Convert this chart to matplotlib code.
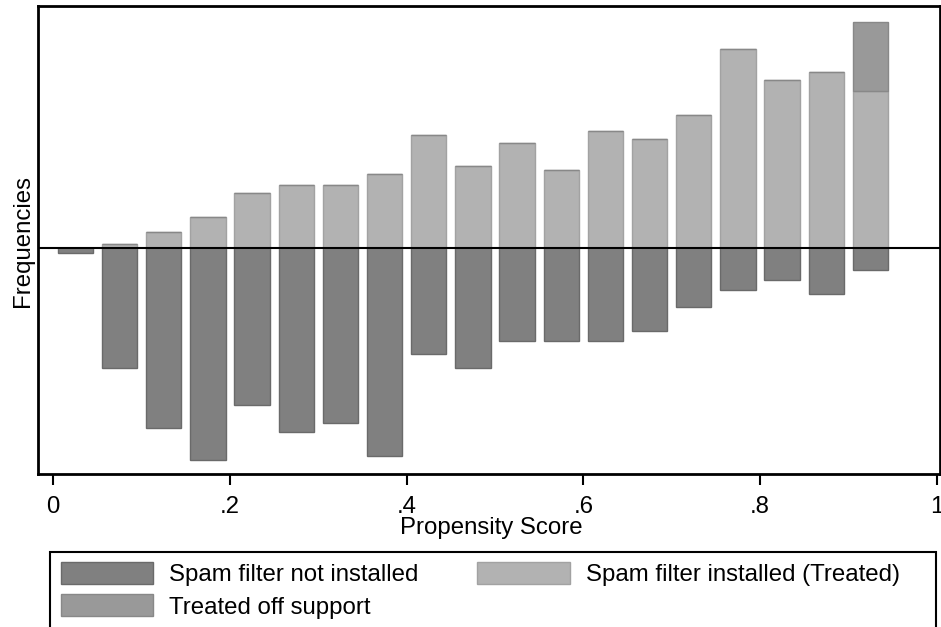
import matplotlib
matplotlib.use("Agg")
import matplotlib.pyplot as plt
from matplotlib.patches import Rectangle

# bin centres of the propensity score histogram (bin width .05)
bin_centers = [0.025, 0.075, 0.125, 0.175, 0.225, 0.275, 0.325, 0.375, 0.425, 0.475,
               0.525, 0.575, 0.625, 0.675, 0.725, 0.775, 0.825, 0.875, 0.925]
# frequencies (arbitrary units, y axis is unlabelled)
untreated = [5, 120, 180, 212, 157, 184, 175, 208, 106, 120,
             93, 93, 93, 83, 59, 42, 32, 46, 22]
treated = [0, 4, 16, 31, 55, 63, 63, 74, 113, 82,
           105, 78, 117, 109, 133, 199, 168, 176, 157]
treated_off = [0, 0, 0, 0, 0, 0, 0, 0, 0, 0,
               0, 0, 0, 0, 0, 0, 0, 0, 69]

tick_values = [0, 0.2, 0.4, 0.6, 0.8, 1.0]
tick_labels = ["0", ".2", ".4", ".6", ".8", "1"]
legend_labels = ["Spam filter not installed", "Spam filter installed (Treated)",
                 "Treated off support"]

W, H = 941, 627


def plot_chart(output_path):
    plt.rcParams["font.family"] = ["Liberation Sans", "DejaVu Sans"]
    fs = 17.3

    fig = plt.figure(figsize=(W / 100, H / 100), dpi=100)
    # axes frame in pixel terms: left 38, right 940, top 6, bottom 474
    ax = fig.add_axes([38 / W, 1 - 474 / H, (940 - 38) / W, (474 - 6) / H])

    width = 0.04
    b_un = ax.bar(bin_centers, [-v for v in untreated], width=width,
                  color="#808080", edgecolor="#6a6a6a", linewidth=1, zorder=2)
    b_tr = ax.bar(bin_centers, treated, width=width,
                  color="#b2b2b2", edgecolor="#a2a2a2", linewidth=1, zorder=2)
    b_off = ax.bar(bin_centers, treated_off, width=width, bottom=treated,
                   color="#999999", edgecolor="#888888", linewidth=1, zorder=2)

    ax.axhline(0, color="black", linewidth=1.5, zorder=3)

    ax.set_xlim(-0.0173, 1.0037)
    ax.set_ylim(-226.3, 241.7)

    ax.set_xticks(tick_values)
    ax.set_xticklabels(tick_labels, fontsize=fs)
    ax.tick_params(axis="x", direction="out", length=8, width=1.5, pad=8)
    ax.set_yticks([])

    for side in ["left", "top", "bottom", "right"]:
        ax.spines[side].set_linewidth(2)

    ax.set_xlabel("Propensity Score", fontsize=fs)
    ax.xaxis.set_label_coords(0.503, -0.092)
    ax.set_ylabel("Frequencies", fontsize=fs)
    ax.yaxis.set_label_coords(-0.0044, 0.498)

    # legend frame runs off the bottom of the picture
    fig.patches.append(Rectangle((50 / W, -0.05), (936 - 50) / W, (H - 552) / H + 0.05,
                                 transform=fig.transFigure, fill=False,
                                 edgecolor="black", linewidth=1.5))
    fig.legend([b_un, b_off, b_tr],
               [legend_labels[0], legend_labels[2], legend_labels[1]],
               ncol=2, loc="upper left",
               bbox_to_anchor=(60.7 / W, 1 - 561.7 / H),
               frameon=False, fontsize=fs, borderpad=0, borderaxespad=0,
               handlelength=3.85, handleheight=1.03, handletextpad=0.66,
               columnspacing=2.45, labelspacing=0.35)

    fig.savefig(output_path, dpi=100)


def main():
    plot_chart("out.png")


if __name__ == "__main__":
    main()
